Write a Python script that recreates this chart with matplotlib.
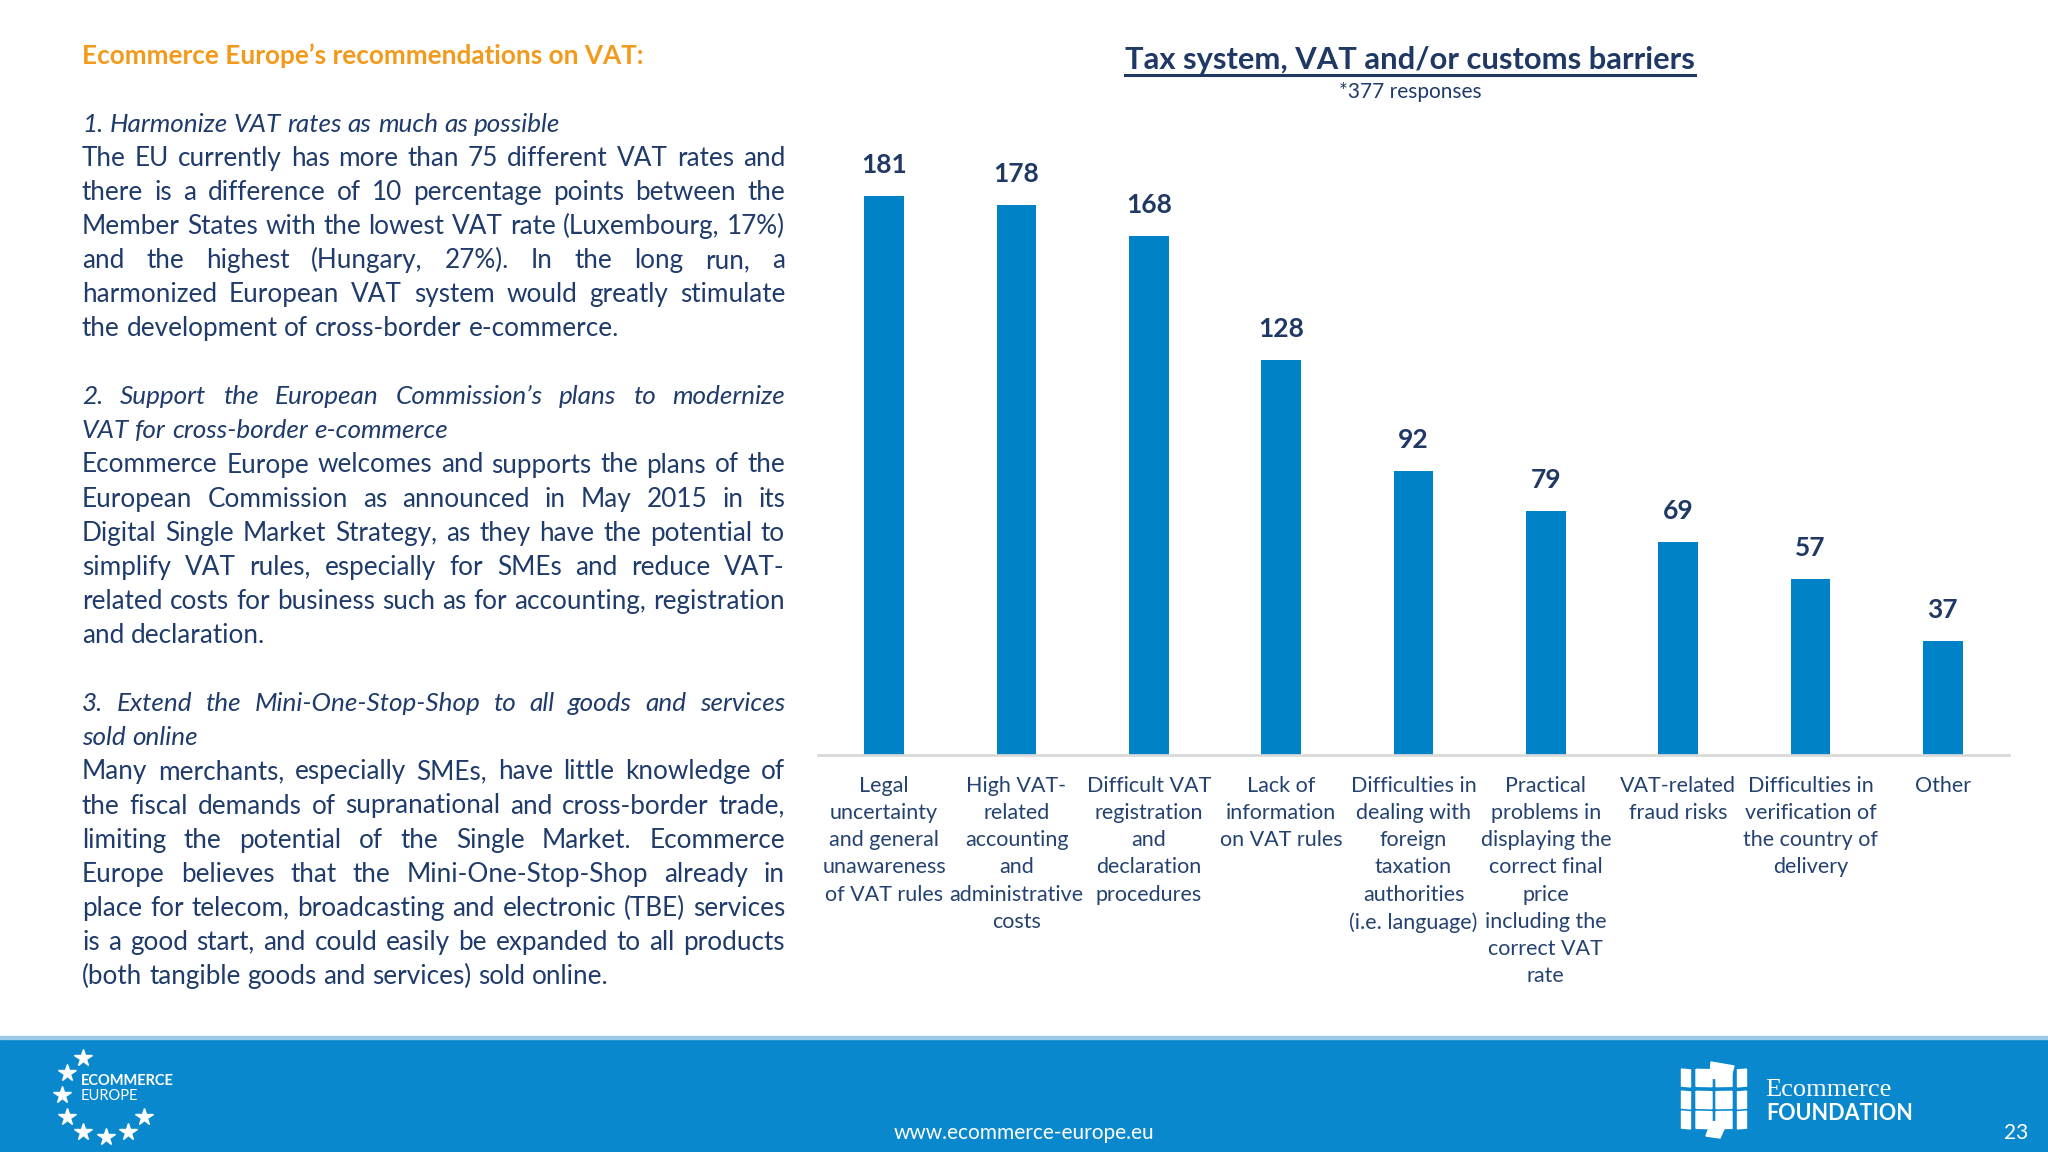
import matplotlib
matplotlib.use("Agg")
import matplotlib.pyplot as plt
from matplotlib.patches import Rectangle, Polygon
import numpy as np

plt.rcParams['font.family'] = ['Lato', 'DejaVu Sans']

# ---------------- data ----------------
categories = [
    "Legal\nuncertainty\nand general\nunawareness\nof VAT rules",
    "High VAT-\nrelated\naccounting\nand\nadministrative\ncosts",
    "Difficult VAT\nregistration\nand\ndeclaration\nprocedures",
    "Lack of\ninformation\non VAT rules",
    "Difficulties in\ndealing with\nforeign\ntaxation\nauthorities\n(i.e. language)",
    "Practical\nproblems in\ndisplaying the\ncorrect final\nprice\nincluding the\ncorrect VAT\nrate",
    "VAT-related\nfraud risks",
    "Difficulties in\nverification of\nthe country of\ndelivery",
    "Other",
]
values = [181, 178, 168, 128, 92, 79, 69, 57, 37]
chart_title = "Tax system, VAT and/or customs barriers"
chart_subtitle = "*377 responses"

left_heading = "Ecommerce Europe\u2019s recommendations on VAT:"
# (text, style, justified)
body_lines = [
    ("1. Harmonize VAT rates as much as possible", "italic", False),
    ("The EU currently has more than 75 different VAT rates and", "normal", True),
    ("there is a difference of 10 percentage points between the", "normal", True),
    ("Member States with the lowest VAT rate (Luxembourg, 17%)", "normal", True),
    ("and the highest (Hungary, 27%). In the long run, a", "normal", True),
    ("harmonized European VAT system would greatly stimulate", "normal", True),
    ("the development of cross-border e-commerce.", "normal", False),
    ("", "normal", False),
    ("2. Support the European Commission\u2019s plans to modernize", "italic", True),
    ("VAT for cross-border e-commerce", "italic", False),
    ("Ecommerce Europe welcomes and supports the plans of the", "normal", True),
    ("European Commission as announced in May 2015 in its", "normal", True),
    ("Digital Single Market Strategy, as they have the potential to", "normal", True),
    ("simplify VAT rules, especially for SMEs and reduce VAT-", "normal", True),
    ("related costs for business such as for accounting, registration", "normal", True),
    ("and declaration.", "normal", False),
    ("", "normal", False),
    ("3. Extend the Mini-One-Stop-Shop to all goods and services", "italic", True),
    ("sold online", "italic", False),
    ("Many merchants, especially SMEs, have little knowledge of", "normal", True),
    ("the fiscal demands of supranational and cross-border trade,", "normal", True),
    ("limiting the potential of the Single Market. Ecommerce", "normal", True),
    ("Europe believes that the Mini-One-Stop-Shop already in", "normal", True),
    ("place for telecom, broadcasting and electronic (TBE) services", "normal", True),
    ("is a good start, and could easily be expanded to all products", "normal", True),
    ("(both tangible goods and services) sold online.", "normal", False),
]
footer_url = "www.ecommerce-europe.eu"
page_number = "23"

# ---------------- colours ----------------
BAR = "#0082C8"
NAVY = "#1F3B6B"
VALNAVY = "#1F3864"
LABEL = "#24426F"
ORANGE = "#F39A1B"
FOOT = "#0A88CE"

W, H = 2048, 1152
fig = plt.figure(figsize=(W / 100, H / 100), dpi=100)
fig.patch.set_facecolor("white")
renderer = fig.canvas.get_renderer()

# overlay axes in pixel coordinates (y downward)
ov = fig.add_axes([0, 0, 1, 1])
ov.set_xlim(0, W)
ov.set_ylim(H, 0)
ov.axis("off")
ov.patch.set_alpha(0)


def tw(s, **kw):
    t = ov.text(0, 0, s, **kw)
    bb = t.get_window_extent(renderer=renderer)
    t.remove()
    return bb.width


# ---------------- left text block ----------------
X0, X1 = 82, 785
TW = X1 - X0
base = 20.5
maxw = 0
for s, st, j in body_lines:
    if s and j:
        maxw = max(maxw, tw(s, fontsize=base, style=st))
fs = min(base, base * TW / maxw * 0.995)

y0 = 124
dy = 34.1
ov.text(X0, y0 - 2 * dy, left_heading, fontsize=fs, fontweight="bold",
        color=ORANGE, va="center", ha="left")

for i, (s, st, j) in enumerate(body_lines):
    if not s:
        continue
    y = y0 + i * dy
    words = s.split(" ")
    kw = dict(fontsize=fs, style=st, color=NAVY, va="center", ha="left")
    widths = [tw(w, **kw) for w in words]
    if j and len(words) > 1:
        gap = (TW - sum(widths)) / (len(words) - 1)
    else:
        gap = tw("a a", **kw) - tw("aa", **kw)
    x = X0
    for w, wd in zip(words, widths):
        ov.text(x, y, w, **kw)
        x += wd + gap

# ---------------- chart ----------------
ax_left, ax_right = 818, 2009
base_y = 755
ymax = 200
unit = (755 - 196) / 181.0
ax_h = ymax * unit
ax = fig.add_axes([ax_left / W, (H - base_y) / H, (ax_right - ax_left) / W, ax_h / H])
ax.patch.set_alpha(0)
x = np.arange(len(values))
bars = ax.bar(x, values, width=0.3, color=BAR, zorder=2)
ax.set_xlim(-0.5, len(values) - 0.5)
ax.set_ylim(0, ymax)
for sp in ["top", "left", "right"]:
    ax.spines[sp].set_visible(False)
ax.spines["bottom"].set_color("#D9D9D9")
ax.spines["bottom"].set_linewidth(2)
ax.set_yticks([])
ax.set_xticks(x)
ax.set_xticklabels(categories, fontsize=15.5, color=LABEL, linespacing=1.45)
ax.tick_params(axis="x", length=0, pad=15)
for xi, v in zip(x, values):
    ax.annotate(str(v), (xi, v), xytext=(0, 31), textcoords="offset pixels",
                ha="center", va="center", fontsize=19, fontweight="bold", color=VALNAVY)

# title + underline
tt = ov.text(1410, 60, chart_title, fontsize=22.2, fontweight="bold", color=VALNAVY,
             ha="center", va="center")
bb = tt.get_window_extent(renderer=renderer)
ov.plot([1410 - bb.width / 2, 1410 + bb.width / 2], [75, 75], color=VALNAVY, lw=2.2)
ov.text(1410, 92, chart_subtitle, fontsize=15, color=NAVY, ha="center", va="center")

# ---------------- footer ----------------
ov.add_patch(Rectangle((0, 1038), W, H - 1038, color=FOOT, zorder=0))
ov.add_patch(Rectangle((0, 1036), W, 3, color="#9CCBE9", zorder=0))
ov.text(1024, 1133, footer_url, fontsize=15, color="white", ha="center", va="center")
ov.text(2016, 1133, page_number, fontsize=15, color="white", ha="center", va="center")

# Ecommerce Europe logo
stars = [(83, 1058), (67, 1073), (62, 1095), (67, 1117), (83, 1132), (106, 1137), (128, 1132), (144, 1117)]
for sx, sy in stars:
    ov.plot(sx, sy, marker="*", ms=13, color="white", mec="white", ls="none")
ov.text(81, 1081, "ECOMMERCE", fontsize=10.5, fontweight="bold", color="white", ha="left", va="center")
ov.text(81, 1096, "EUROPE", fontsize=10.5, color="white", ha="left", va="center")

# Ecommerce Foundation logo (stylised globe)
cx, cy = 1716, 1100
cols = [-30, -12, 8, 26]
for ci, xc in enumerate(cols):
    for yc in [-22, 0, 20]:
        wq = 16 if ci in (1, 2) else 9
        hq = 17
        skew = 0.15 * xc
        poly = Polygon([(cx + xc - wq / 2, cy + yc - hq / 2 + skew * 0.1),
                        (cx + xc + wq / 2, cy + yc - hq / 2 - skew * 0.1),
                        (cx + xc + wq / 2, cy + yc + hq / 2 - skew * 0.1),
                        (cx + xc - wq / 2, cy + yc + hq / 2 + skew * 0.1)],
                       closed=True, color="white", zorder=3)
        ov.add_patch(poly)
ov.add_patch(Polygon([(cx - 5, 1062), (cx + 18, 1066), (cx + 14, 1080), (cx - 6, 1078)], color="white"))
ov.add_patch(Polygon([(cx - 5, 1122), (cx + 12, 1120), (cx + 4, 1138), (cx - 10, 1136)], color="white"))
ov.text(1765, 1090, "Ecommerce", fontsize=19, family=["Liberation Serif", "DejaVu Serif"],
        color="white", ha="left", va="center")
ov.text(1766, 1114, "FOUNDATION", fontsize=15.5, fontweight="bold", color="white", ha="left", va="center")

fig.savefig("out.png", dpi=100, facecolor="white")
